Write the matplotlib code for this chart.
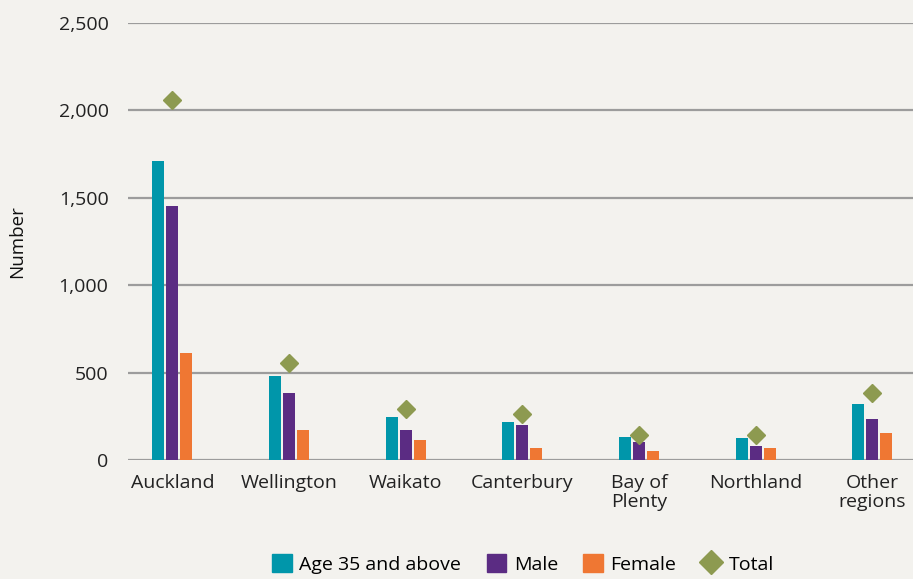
import matplotlib.pyplot as plt
import numpy as np
from matplotlib.lines import Line2D
from matplotlib.patches import Patch

# 데이터
regions = ['Auckland', 'Wellington', 'Waikato', 'Canterbury', 'Bay of\nPlenty', 'Northland', 'Other\nregions']
age35 = [1711, 480, 246, 217, 132, 126, 320]
male = [1453, 383, 172, 200, 103, 80, 235]
female = [612, 172, 114, 69, 51, 69, 154]
total = [2058, 555, 294, 261, 145, 145, 383]

bg = '#f3f2ee'
c_teal = '#0096aa'
c_purple = '#5b2c83'
c_orange = '#ef7733'
c_olive = '#8d9a50'

plt.rcParams['font.family'] = ['Open Sans', 'DejaVu Sans']

fig = plt.figure(figsize=(9.13, 5.79), dpi=100)
fig.patch.set_facecolor(bg)
ax = fig.add_axes([128 / 913, 1 - 460 / 579, 1 - 128 / 913, 437 / 579])
ax.set_facecolor(bg)

x = np.arange(len(regions))
w = 0.103
step = 0.12
ax.bar(x - step, age35, w, color=c_teal, zorder=3)
ax.bar(x, male, w, color=c_purple, zorder=3)
ax.bar(x + step, female, w, color=c_orange, zorder=3)
ax.plot(x, total, linestyle='none', marker='D', markersize=9, color=c_olive, zorder=4)

ax.set_ylim(0, 2500)
ax.set_xlim(-0.38, 6.35)
ax.set_yticks(np.arange(0, 2501, 500))
ax.set_yticklabels([f'{v:,}' for v in range(0, 2501, 500)])
ax.yaxis.grid(True, color='#9c9c9c', linewidth=1.6, zorder=0)
ax.set_axisbelow(True)
for s in ax.spines.values():
    s.set_visible(False)
ax.tick_params(axis='y', length=0, pad=14, labelsize=14, labelcolor='#222222')
ax.tick_params(axis='x', length=0, pad=10, labelsize=14, labelcolor='#222222')
ax.set_xticks(x)
ax.set_xticklabels(regions, linespacing=1.05, va='top')
ax.set_ylabel('Number', fontsize=13.5, color='#111111', labelpad=23)

handles = [
    Patch(color=c_teal, label='Age 35 and above'),
    Patch(color=c_purple, label='Male'),
    Patch(color=c_orange, label='Female'),
    Line2D([], [], linestyle='none', marker='D', markersize=12, color=c_olive, label='Total'),
]
fig.legend(handles=handles, loc='center', bbox_to_anchor=(0.573, 0.026), ncol=4, frameon=False,
           fontsize=14, handlelength=1.0, handleheight=1.0, handletextpad=0.4, columnspacing=1.3)

fig.savefig('out.png', dpi=100, facecolor=bg)
